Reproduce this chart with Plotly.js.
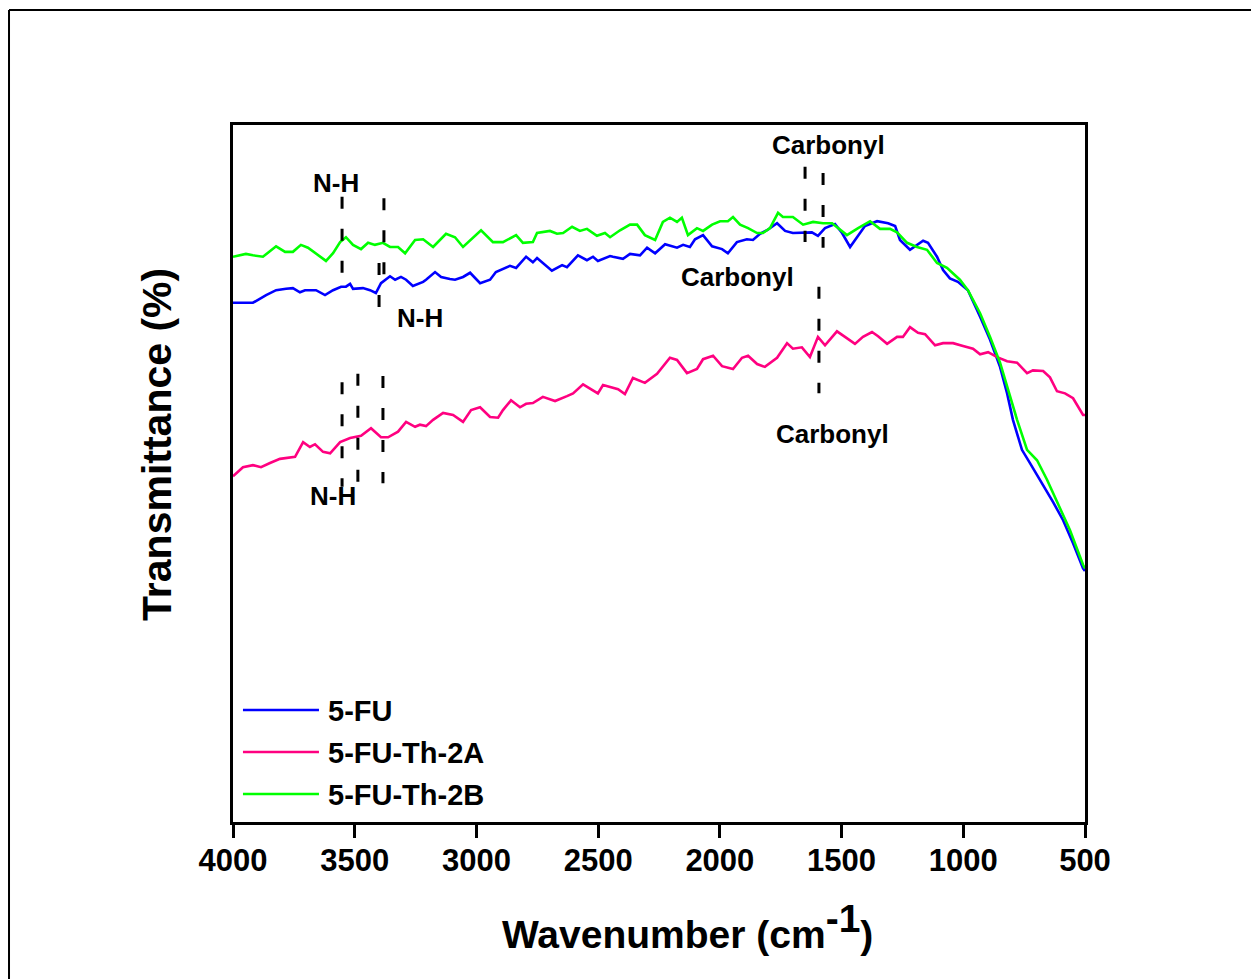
<!DOCTYPE html>
<html>
<head>
<meta charset="utf-8">
<script src="https://cdn.plot.ly/plotly-3.0.1.min.js"></script>
<style>
  html, body { margin: 0; padding: 0; background: #ffffff; }
  #chart { width: 1251px; height: 979px; }
</style>
</head>
<body>
<div id="chart"></div>
<script>
// FTIR spectra: wavenumber (cm-1) vs transmittance (arbitrary offset units)
const seriesNames = ['5-FU', '5-FU-Th-2A', '5-FU-Th-2B'];
const seriesColors = ['#0000FF', '#FF0080', '#00FF00'];

const fuWavenumber = [4000,3918,3864,3823,3782,3754,3725,3704,3659,3622,3589,3556,3536,3519,3507,3466,3437,3413,3392,3355,3334,3310,3289,3261,3219,3207,3170,3145,3109,3088,3055,3026,2985,2944,2920,2862,2837,2796,2768,2751,2690,2648,2628,2583,2546,2521,2501,2451,2439,2398,2369,2328,2299,2266,2225,2176,2151,2123,2102,2069,2032,1991,1967,1930,1889,1864,1835,1806,1765,1732,1700,1658,1622,1597,1568,1527,1498,1465,1437,1404,1354,1309,1280,1260,1219,1190,1165,1145,1108,1083,1055,1022,981,931,890,849,820,796,759,726,685,631,590,549,508,500];
const fuTransmittance = [74.5,74.5,75.6,76.3,76.5,76.6,76.0,76.3,76.3,75.6,76.3,76.8,76.8,77.2,76.5,76.6,76.3,75.9,77.3,78.3,77.8,78.2,77.8,76.9,77.5,77.8,78.9,78.2,77.9,77.8,78.2,78.8,77.3,77.8,78.9,79.8,79.5,81.1,80.3,80.9,79.1,79.9,79.6,81.3,80.6,81.1,80.5,81.2,81.1,80.8,81.5,81.3,82.4,81.6,82.9,82.4,82.8,82.5,83.6,84.2,82.6,82.2,81.6,83.2,83.6,83.5,84.4,84.9,85.9,84.8,84.5,84.6,84.6,84.1,85.2,85.8,84.5,82.5,83.9,85.5,86.2,85.9,85.5,83.5,82.1,82.8,83.4,83.1,81.1,79.2,78.0,77.5,76.3,72.5,69.2,65.3,61.5,57.7,53.4,51.5,49.1,45.9,43.3,40.0,36.4,36.0];

const th2aWavenumber = [4000,3959,3918,3885,3848,3807,3745,3712,3684,3663,3630,3601,3560,3519,3474,3433,3392,3363,3322,3289,3252,3232,3207,3178,3137,3096,3055,3022,2985,2944,2911,2891,2858,2821,2796,2768,2727,2677,2628,2603,2562,2525,2501,2480,2418,2390,2357,2308,2258,2205,2176,2135,2094,2069,2028,1991,1946,1909,1884,1847,1815,1765,1724,1700,1663,1630,1597,1568,1519,1486,1445,1412,1375,1350,1313,1272,1248,1219,1186,1157,1116,1083,1042,1001,960,931,898,861,820,779,738,714,672,644,615,582,549,508,500];
const th2aTransmittance = [49.6,50.9,51.2,50.9,51.5,52.1,52.4,54.5,53.8,54.2,53.1,52.9,54.5,55.1,55.4,56.5,55.2,55.2,56.0,57.4,56.7,57.0,56.8,57.7,58.7,58.4,57.4,59.1,59.5,58.1,58.0,59.1,60.5,59.5,60.0,60.1,61.0,60.4,61.1,61.5,62.8,62.0,61.5,62.7,62.1,61.4,63.7,63.0,64.3,66.6,66.3,64.4,65.0,66.4,66.9,65.4,65.0,66.6,66.9,65.7,65.3,66.6,68.7,67.9,68.1,66.7,69.6,68.4,70.4,69.6,68.6,69.6,70.3,69.7,68.6,69.6,69.6,71.0,70.2,70.0,68.4,68.7,68.7,68.3,67.9,67.1,67.4,66.7,66.1,65.9,64.4,64.8,64.7,63.8,61.8,61.5,60.8,58.4,58.4];

const th2bWavenumber = [4000,3947,3918,3877,3823,3786,3754,3721,3692,3659,3618,3589,3560,3536,3507,3474,3445,3417,3384,3355,3322,3293,3252,3219,3178,3125,3088,3055,3014,2981,2932,2891,2837,2809,2768,2751,2698,2669,2644,2607,2575,2546,2505,2472,2451,2410,2369,2340,2308,2266,2234,2205,2176,2156,2131,2094,2069,2032,1999,1967,1946,1917,1884,1847,1823,1794,1761,1741,1700,1658,1617,1576,1539,1478,1432,1383,1342,1301,1272,1231,1190,1149,1108,1067,1014,981,931,890,849,816,779,738,697,656,603,562,508,500];
const th2bTransmittance = [81.1,81.5,81.3,81.1,82.6,81.8,81.8,82.8,82.4,81.6,80.5,81.6,83.2,83.9,82.8,82.2,83.1,82.8,83.1,82.5,82.5,81.6,83.5,83.6,82.5,84.4,83.9,82.5,83.9,84.9,83.2,83.2,84.2,83.1,83.2,84.5,84.8,84.4,84.5,85.4,84.8,85.1,84.1,84.5,83.9,84.9,85.7,85.7,84.2,83.5,86.1,86.7,86.1,86.7,84.2,85.2,84.8,85.7,86.2,86.2,86.8,85.7,85.2,84.5,84.5,85.2,87.4,86.8,86.8,85.7,86.1,85.9,85.9,84.2,85.2,86.2,85.1,85.1,84.6,83.1,82.5,82.1,80.2,79.5,77.8,76.3,73.0,69.6,65.9,62.0,57.7,53.4,51.9,49.1,45.1,41.9,36.9,36.4];

const xTickValues = [4000, 3500, 3000, 2500, 2000, 1500, 1000, 500];

// Band markers: [wavenumber, top, bottom] for each dashed guide line
const bandMarkers = [
  [3552, 89.7, 78.8], [3380, 89.5, 78.5],            // N-H, 5-FU-Th-2B
  [3400, 80.2, 73.9],                                // N-H, 5-FU
  [1650, 94.0, 83.2], [1576, 93.1, 82.4],            // carbonyl, 5-FU / 5-FU-Th-2B
  [1593, 76.8, 61.5],                                // carbonyl, 5-FU-Th-2A
  [3552, 63.1, 48.1], [3487, 64.3, 48.8], [3384, 64.0, 48.6]  // N-H, 5-FU-Th-2A
];
// Band labels: [text, wavenumber, transmittance]
const bandLabels = [
  ['N-H', 3577, 91.7],
  ['N-H', 3232, 72.3],
  ['Carbonyl', 1552, 97.2],
  ['Carbonyl', 1927, 78.2],
  ['Carbonyl', 1539, 55.7],
  ['N-H', 3591, 46.8]
];

const FONT = 'Liberation Sans, Arial, Helvetica, sans-serif';

const series = [
  [fuWavenumber, fuTransmittance],
  [th2aWavenumber, th2aTransmittance],
  [th2bWavenumber, th2bTransmittance]
];

const traces = series.map((s, i) => ({
  type: 'scatter',
  mode: 'lines',
  name: seriesNames[i],
  x: s[0],
  y: s[1],
  line: { color: seriesColors[i], width: 2.6 },
  showlegend: false,
  hoverinfo: 'x+y+name'
}));

const shapes = bandMarkers.map(m => ({
  type: 'line', xref: 'x', yref: 'y',
  x0: m[0], x1: m[0], y0: m[1], y1: m[2],
  line: { color: '#000000', width: 3, dash: '12px,20px' }
}));

// Outer figure frame (top and left edges)
shapes.push({
  type: 'line', xref: 'paper', yref: 'paper', layer: 'above',
  x0: -0.2629, x1: -0.2629, y0: -0.3, y1: 1.1650,
  line: { color: '#000000', width: 2 }
});
shapes.push({
  type: 'line', xref: 'paper', yref: 'paper', layer: 'above',
  x0: -0.2629, x1: 1.3, y0: 1.1650, y1: 1.1650,
  line: { color: '#000000', width: 2 }
});

const annotations = bandLabels.map(l => ({
  text: l[0], x: l[1], y: l[2], xref: 'x', yref: 'y',
  showarrow: false, xanchor: 'center', yanchor: 'middle',
  font: { family: FONT, size: 26, color: '#000000', weight: 700 }
}));

// Legend drawn inside the plot area, lower left
const legendY = [0.1607, 0.1004, 0.0402];
seriesNames.forEach((name, i) => {
  shapes.push({
    type: 'line', xref: 'paper', yref: 'paper',
    x0: 0.0117, x1: 0.1009, y0: legendY[i], y1: legendY[i],
    line: { color: seriesColors[i], width: 2.6 }
  });
  annotations.push({
    text: name, xref: 'paper', yref: 'paper',
    x: 0.1092, y: legendY[i] - 0.0015, xanchor: 'left', yanchor: 'middle',
    showarrow: false,
    font: { family: FONT, size: 29, color: '#000000', weight: 700 }
  });
});

// Axis titles
annotations.push({
  text: 'Wavenumber (cm<sup><span style="font-size:39px">-1</span></sup>)',
  xref: 'paper', yref: 'paper', x: 0.3134, y: -0.150,
  xanchor: 'left', yanchor: 'middle', showarrow: false,
  font: { family: FONT, size: 39, color: '#000000', weight: 700 }
});
annotations.push({
  text: 'Transmittance (%)',
  xref: 'paper', yref: 'paper', x: -0.0892, y: 0.541,
  xanchor: 'center', yanchor: 'middle', textangle: -90, showarrow: false,
  font: { family: FONT, size: 41, color: '#000000', weight: 700 }
});

const layout = {
  width: 1251,
  height: 979,
  margin: { l: 233, r: 166, t: 125, b: 157, pad: 0 },
  paper_bgcolor: '#ffffff',
  plot_bgcolor: '#ffffff',
  showlegend: false,
  xaxis: {
    range: [4000, 500],
    tickvals: xTickValues,
    ticktext: xTickValues.map(String),
    ticks: 'outside', ticklen: 13, tickwidth: 3, tickcolor: '#000000',
    ticklabelstandoff: -4,
    showline: true, linewidth: 3, linecolor: '#000000', mirror: true,
    showgrid: false, zeroline: false,
    tickfont: { family: FONT, size: 31, color: '#000000', weight: 700 }
  },
  yaxis: {
    range: [0, 100],
    showticklabels: false, ticks: '',
    showline: true, linewidth: 3, linecolor: '#000000', mirror: true,
    showgrid: false, zeroline: false
  },
  shapes: shapes,
  annotations: annotations
};

Plotly.newPlot('chart', traces, layout, { displayModeBar: false, staticPlot: true });
</script>
</body>
</html>
